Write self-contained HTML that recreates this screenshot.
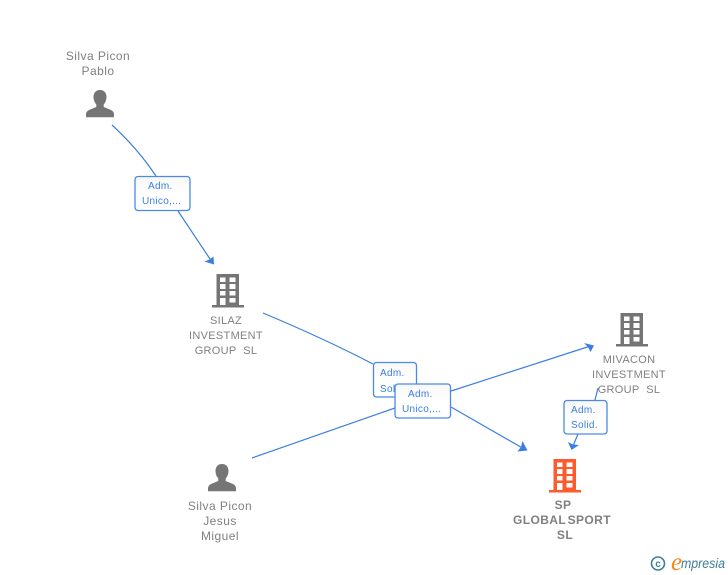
<!DOCTYPE html>
<html>
<head>
<meta charset="utf-8">
<style>
html,body{margin:0;padding:0;background:#fff;}
body{width:728px;height:575px;overflow:hidden;position:relative;font-family:"Liberation Sans",sans-serif;}
svg{position:absolute;left:0;top:0;}
.n{font-size:12px;fill:#808080;text-anchor:middle;letter-spacing:.45px;}
.u{font-size:11px;letter-spacing:.3px;}
.b{font-weight:bold;letter-spacing:.4px;word-spacing:-2px;}
.l{font-size:10px;fill:#3a7fe0;letter-spacing:.3px;}
.box{fill:#fff;stroke:#4a8ae6;stroke-width:1.3;}
.e{fill:none;stroke:#3a7fe0;stroke-width:1.2;}
</style>
</head>
<body>
<svg width="728" height="575" viewBox="0 0 728 575">
<defs>
<linearGradient id="g" x1="0" y1="0" x2="0" y2="1"><stop offset="0" stop-color="#f7f7f7"/><stop offset=".5" stop-color="#fff"/></linearGradient>
<g id="person"><path d="M14 0c-4.200 0-6.500 3-6.500 7 0 3 1 5.500 2.800 7.500v2.500L3 20c-2 1-3 2.500-3 4.500V27.300H28V24.500c0-2-1-3.500-3-4.500l-7.300-3v-2.500C19.500 12.500 20.500 10 20.500 7 20.500 3 18.200 0 14 0z"/></g>
<g id="bld"><path fill-rule="evenodd" d="M4.500 0H27V31H32V33.500H0V31H4.500ZM8 3.500V8H13.500V3.500ZM17.500 3.500V8H23.500V3.500ZM8 10V15H13.500V10ZM17.500 10V15H23.500V10ZM8 17V21.500H13.500V17ZM17.500 17V21.500H23.500V17ZM8 24V31H13.500V24ZM17.500 24V28.500H23.500V24Z"/></g>
</defs>

<!-- edges -->
<path class="e" d="M112 125Q138 149 156 176"/>
<path class="e" d="M178 211L212 262"/>
<path fill="#3a7fe0" d="M214 264.500L204.500 261.500L209.500 259.500L213.500 256.500Z"/>
<path class="e" d="M263 313Q325 339 373 364"/>
<path class="e" d="M451 407L525 449.500"/>
<path fill="#3a7fe0" d="M527.500 450.500L517.500 451.500L521 447L522.500 441Z"/>
<path class="e" d="M252 458L395 408"/>
<path class="e" d="M451 391L592 345.500"/>
<path fill="#3a7fe0" d="M594 345.500L590.500 352L588 347L584 343Z"/>
<path class="e" d="M598 388L595 400"/>
<path class="e" d="M578 434L573 446"/>
<path fill="#3a7fe0" d="M571.500 450L568 442L573 444.500L579 445Z"/>

<!-- nodes -->
<text class="n" x="98" y="60">Silva Picon</text>
<text class="n" x="98" y="75">Pablo</text>
<use href="#person" x="86" y="90" fill="#757575"/>

<use href="#bld" x="212" y="274" fill="#757575"/>
<text class="n u" x="226" y="324">SILAZ</text>
<text class="n u" x="226" y="339">INVESTMENT</text>
<text class="n u" x="226" y="354">GROUP&#160;&#160;SL</text>

<use href="#bld" x="616" y="313" fill="#757575"/>
<text class="n u" x="629" y="363">MIVACON</text>
<text class="n u" x="629" y="378">INVESTMENT</text>
<text class="n u" x="629" y="393">GROUP&#160;&#160;SL</text>

<use href="#person" x="208" y="464" fill="#757575"/>
<text class="n" x="220" y="510">Silva Picon</text>
<text class="n" x="220" y="525">Jesus</text>
<text class="n" x="220" y="540">Miguel</text>

<use href="#bld" x="549" y="459" fill="#ff5a2c"/>
<text class="n b" x="563" y="509">SP</text>
<text class="n b" x="562" y="524">GLOBAL SPORT</text>
<text class="n b" x="565" y="539">SL</text>

<!-- label boxes -->
<rect class="box" x="135" y="176.500" width="55" height="34" rx="3" style="fill:url(#g)"/>
<text class="l" x="148" y="189">Adm.</text>
<text class="l" x="142" y="204">Unico,...</text>

<rect class="box" x="373.500" y="362.500" width="43" height="34.500" rx="3" style="fill:url(#g)"/>
<text class="l" x="380" y="376">Adm.</text>
<text class="l" x="380" y="392">Solid.</text>

<rect class="box" x="395" y="384" width="55.500" height="34" rx="3" style="fill:url(#g)"/>
<text class="l" x="408" y="397">Adm.</text>
<text class="l" x="402" y="412">Unico,...</text>

<rect class="box" x="564" y="400.500" width="43" height="33.500" rx="3" style="fill:url(#g)"/>
<text class="l" x="571" y="413">Adm.</text>
<text class="l" x="571" y="428">Solid.</text>

<!-- watermark -->
<circle cx="658" cy="563.500" r="6.500" fill="none" stroke="#3d7f96" stroke-width="1.600"/>
<text x="658" y="567" font-size="10" font-weight="bold" fill="#3d7f96" text-anchor="middle">c</text>
<text x="671" y="570" font-size="25" fill="#f08a1c" font-family="Liberation Serif,serif" font-style="italic">e</text>
<text x="681" y="568" font-size="13.500" fill="#3d7f96" font-family="Liberation Sans,sans-serif" font-style="italic" textLength="44" lengthAdjust="spacingAndGlyphs">mpresia</text>
</svg>
</body>
</html>
